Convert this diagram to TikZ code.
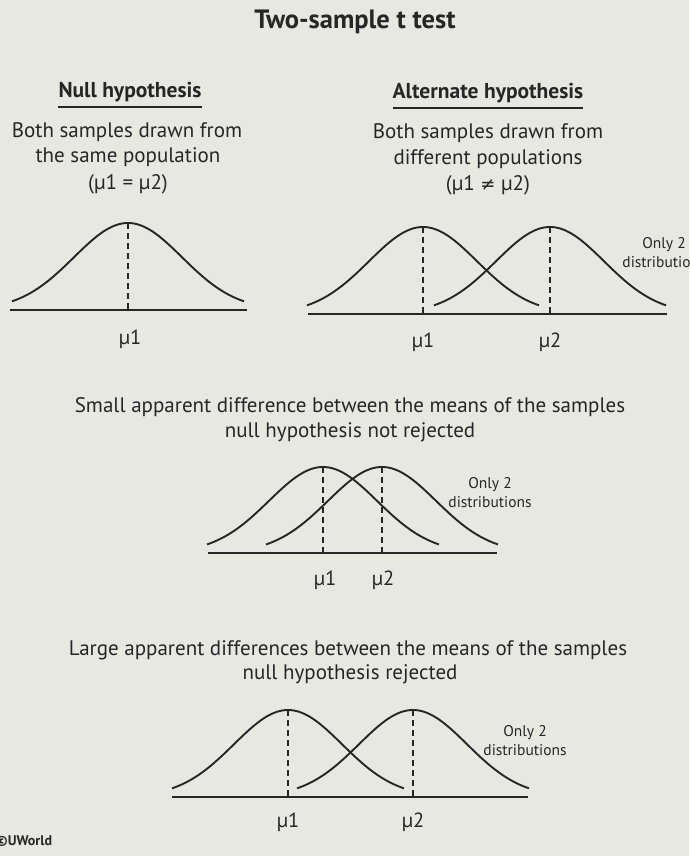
\documentclass[tikz,border=0pt]{standalone}
\usepackage{fontspec}
\setmainfont{PT Sans}
\newfontfamily\dvfont{DejaVu Sans}
\definecolor{bg}{RGB}{232,232,227}
\definecolor{ink}{RGB}{38,38,38}
\newcommand\bellcurve[3]{\draw[curve] plot[domain=-116:116,samples=90,smooth] ({#1+\x},{#2-#3*exp(-((\x)*(\x))/5832)});}
\begin{document}
\begin{tikzpicture}[x=1pt,y=-1pt,
  every node/.style={text=ink,inner sep=0pt},
  txt/.style={font=\fontsize{21}{25}\selectfont,anchor=base},
  head/.style={font=\bfseries\fontsize{21.5}{25}\selectfont,anchor=base},
  ttl/.style={font=\bfseries\fontsize{26.5}{30}\selectfont,anchor=base},
  mu/.style={font=\fontsize{20.5}{24}\selectfont,anchor=base},
  note/.style={font=\fontsize{15.5}{19}\selectfont,align=center,anchor=base},
  curve/.style={draw=ink,line width=1.9pt},
  axisline/.style={draw=ink,line width=1.8pt},
  meanline/.style={draw=ink,line width=1.3pt,dash pattern=on 6pt off 4pt},
  uline/.style={draw=ink,line width=1.6pt}]
\fill[bg] (0,0) rectangle (689,856);
\useasboundingbox (0,0) rectangle (689,856);

% title
\node[ttl] (title) at (355,29) {Two-sample t test};

% headings
\node[head] (nullh) at (130,98) {Null hypothesis};
\draw[uline] ([yshift=-9pt]nullh.base west) -- ([yshift=-9pt]nullh.base east);
\node[head] (alth) at (488,99) {Alternate hypothesis};
\draw[uline] ([yshift=-9pt]alth.base west) -- ([yshift=-9pt]alth.base east);

\node[txt] (l1) at (127,137) {Both samples drawn from};
\node[txt] (l2) at (128,162) {the same population};
\node[txt] (l3) at (128,189) {(µ1 = µ2)};
\node[txt] (r1) at (488,139) {Both samples drawn from};
\node[txt] (r2) at (488,164) {different populations};
\node[txt] (r3) at (488,190) {(µ1 {\dvfont\fontsize{18}{21}\selectfont ≠} µ2)};

% left graph
\coordinate (la1) at (10,310); \coordinate (la2) at (247,310);
\draw[axisline] (la1) -- (la2);
\bellcurve{128}{310}{87}
\coordinate (lp) at (128,223); \coordinate (lb) at (128,310);
\draw[meanline] (lp) -- (lb);
\node[mu] (lmu1) at (130,344) {µ1};

% right graph
\coordinate (ra1) at (308,314); \coordinate (ra2) at (667,314);
\draw[axisline] (ra1) -- (ra2);
\bellcurve{423}{314}{87}
\bellcurve{550}{314}{87}
\coordinate (rp1) at (423,227); \coordinate (rb1) at (423,314);
\coordinate (rp2) at (550,227); \coordinate (rb2) at (550,314);
\draw[meanline] (rp1) -- (rb1);
\draw[meanline] (rp2) -- (rb2);
\node[mu] (rmu1) at (423,347) {µ1};
\node[mu] (rmu2) at (550,347) {µ2};
\node[note] (rnote) at (664,267) {Only 2\\distributions};

% middle
\node[txt] (m1) at (350,412) {Small apparent difference between the means of the samples};
\node[txt] (m2) at (350,437) {null hypothesis not rejected};
\coordinate (ma1) at (208,553); \coordinate (ma2) at (497,553);
\draw[axisline] (ma1) -- (ma2);
\bellcurve{323}{553}{86}
\bellcurve{382}{553}{86}
\coordinate (mp1) at (323,467); \coordinate (mb1) at (323,553);
\coordinate (mp2) at (382,467); \coordinate (mb2) at (382,553);
\draw[meanline] (mp1) -- (mb1);
\draw[meanline] (mp2) -- (mb2);
\node[mu] (mmu1) at (325,585) {µ1};
\node[mu] (mmu2) at (383,585) {µ2};
\node[note] (mnote) at (490,507) {Only 2\\distributions};

% bottom
\node[txt] (b1) at (348,655) {Large apparent differences between the means of the samples};
\node[txt] (b2) at (350,679) {null hypothesis rejected};
\coordinate (ba1) at (172,797); \coordinate (ba2) at (528,797);
\draw[axisline] (ba1) -- (ba2);
\bellcurve{288}{797}{87}
\bellcurve{413}{797}{87}
\coordinate (bp1) at (288,710); \coordinate (bb1) at (288,797);
\coordinate (bp2) at (413,710); \coordinate (bb2) at (413,797);
\draw[meanline] (bp1) -- (bb1);
\draw[meanline] (bp2) -- (bb2);
\node[mu] (bmu1) at (288,827) {µ1};
\node[mu] (bmu2) at (413,827) {µ2};
\node[note] (bnote) at (525,755) {Only 2\\distributions};

\node[font=\bfseries\fontsize{14}{17}\selectfont,anchor=base west] (uw) at (-4,845) {©UWorld};
\end{tikzpicture}
\end{document}
